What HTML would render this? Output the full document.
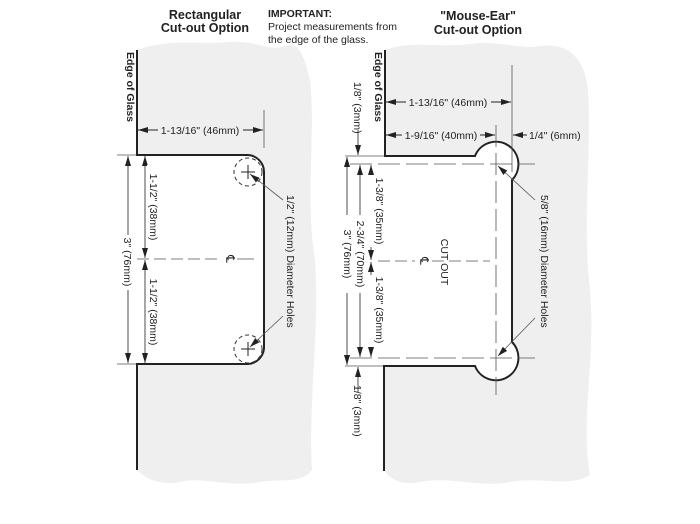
<!DOCTYPE html>
<html><head><meta charset="utf-8"><style>
html,body{margin:0;padding:0;background:#fff;}
svg{display:block;}
text{font-family:"Liberation Sans Narrow","Liberation Sans",sans-serif;fill:#222;}
.t{font-size:10.5px;}
.b{font-weight:bold;}
</style></head><body>
<svg width="700" height="524" viewBox="0 0 700 524" xmlns="http://www.w3.org/2000/svg">
<defs>
<marker id="a" viewBox="0 0 10 6" refX="10" refY="3" markerWidth="10" markerHeight="6" orient="auto-start-reverse" markerUnits="userSpaceOnUse"><path d="M0,0 L10,3 L0,6z" fill="#222"/></marker>
</defs>
<!-- glass blobs -->
<path d="M137,50 C170,38 200,45 230,42 C255,40 270,52 285,46 C300,40 305,60 310,80 C316,130 305,200 315,260 C320,330 308,400 312,470 C300,485 280,478 260,482 C230,488 200,476 180,482 C160,486 145,478 137,470 L137,364 L248,364 A17,17 0 0 0 264,348 L264,172 A17,17 0 0 0 248,155 L137,155 Z" fill="#efefef"/>
<path d="M385,50 C410,40 440,48 470,44 C500,40 520,50 540,46 C570,42 585,60 588,90 C592,150 582,220 590,290 C596,360 580,420 590,475 C570,488 540,476 510,482 C480,488 450,476 420,482 C400,486 390,478 384,471 L384,366 L475,366 A22.5,22.5 0 1 0 512,342 L512,180 A22.5,22.5 0 1 0 475,156 L385,156 Z" fill="#efefef"/>
<!-- titles -->
<text x="205" y="19" text-anchor="middle" class="b" font-size="12.5">Rectangular</text>
<text x="205" y="32" text-anchor="middle" class="b" font-size="12.5">Cut-out Option</text>
<text x="268" y="17" class="b" font-size="10.5">IMPORTANT:</text>
<text x="268" y="30" font-size="10.5">Project measurements from</text>
<text x="268" y="43" font-size="10.5">the edge of the glass.</text>
<text x="478" y="20" text-anchor="middle" class="b" font-size="12.5">"Mouse-Ear"</text>
<text x="478" y="34" text-anchor="middle" class="b" font-size="12.5">Cut-out Option</text>

<!-- LEFT outline -->
<path d="M137,50 L137,155 L248,155 A17,17 0 0 1 264,172 L264,348 A17,17 0 0 1 248,364 L137,364 L137,470" fill="none" stroke="#222" stroke-width="2"/>
<text transform="translate(127,52) rotate(90)" class="b" font-size="10.5">Edge of Glass</text>
<!-- dims -->
<line x1="264" y1="110" x2="264" y2="148" stroke="#555" stroke-width="0.8"/>
<line x1="138" y1="130" x2="158" y2="130" stroke="#222" marker-start="url(#a)"/>
<line x1="243" y1="130" x2="263" y2="130" stroke="#222" marker-end="url(#a)"/>
<text x="200" y="134" text-anchor="middle" class="t">1-13/16" (46mm)</text>
<line x1="117" y1="155" x2="136" y2="155" stroke="#555" stroke-width="0.8"/>
<line x1="117" y1="364" x2="136" y2="364" stroke="#555" stroke-width="0.8"/>
<line x1="128" y1="156" x2="128" y2="235" stroke="#222" stroke-width="0.8" marker-start="url(#a)"/>
<line x1="128" y1="290" x2="128" y2="363" stroke="#222" stroke-width="0.8" marker-end="url(#a)"/>
<text transform="translate(124,262) rotate(90)" text-anchor="middle" class="t">3" (76mm)</text>
<line x1="145" y1="156" x2="145" y2="258" stroke="#222" stroke-width="0.8" marker-start="url(#a)" marker-end="url(#a)"/>
<line x1="145" y1="260" x2="145" y2="363" stroke="#222" stroke-width="0.8" marker-start="url(#a)" marker-end="url(#a)"/>
<rect x="147" y="165" width="14" height="80" fill="#fff"/>
<rect x="147" y="273" width="14" height="80" fill="#fff"/>
<text transform="translate(150,207) rotate(90)" text-anchor="middle" class="t">1-1/2" (38mm)</text>
<text transform="translate(150,312) rotate(90)" text-anchor="middle" class="t">1-1/2" (38mm)</text>
<line x1="137" y1="259" x2="222" y2="259" stroke="#555" stroke-width="0.8" stroke-dasharray="12,5"/>
<line x1="237" y1="259" x2="254" y2="259" stroke="#555" stroke-width="0.8"/>
<text transform="translate(226,259) rotate(90)" text-anchor="middle" font-size="12">℄</text>
<circle cx="248" cy="172" r="14" fill="none" stroke="#333" stroke-width="1" stroke-dasharray="4,3"/>
<circle cx="248" cy="349" r="14" fill="none" stroke="#333" stroke-width="1" stroke-dasharray="4,3"/>
<path d="M241,172 h14 M248,165 v14 M241,349 h14 M248,342 v14" stroke="#222" stroke-width="1"/>
<line x1="283" y1="200" x2="250" y2="174" stroke="#555" stroke-width="0.8" marker-end="url(#a)"/>
<line x1="283" y1="316" x2="250" y2="347" stroke="#555" stroke-width="0.8" marker-end="url(#a)"/>
<text transform="translate(287,195) rotate(90)" class="t">1/2" (12mm) Diameter Holes</text>

<!-- RIGHT outline -->
<path d="M385,50 L385,156 L475,156 A22.5,22.5 0 1 1 512,180 L512,342 A22.5,22.5 0 1 1 475,366 L384,366 L384,471" fill="none" stroke="#222" stroke-width="2"/>
<text transform="translate(375,52) rotate(90)" class="b" font-size="10.5">Edge of Glass</text>
<line x1="512" y1="65" x2="512" y2="172" stroke="#555" stroke-width="0.8"/>
<line x1="386" y1="102" x2="406" y2="102" stroke="#222" marker-start="url(#a)"/>
<line x1="491" y1="102" x2="511" y2="102" stroke="#222" marker-end="url(#a)"/>
<text x="448" y="106" text-anchor="middle" class="t">1-13/16" (46mm)</text>
<line x1="386" y1="135" x2="402" y2="135" stroke="#222" marker-start="url(#a)"/>
<line x1="480" y1="135" x2="495" y2="135" stroke="#222" marker-end="url(#a)"/>
<text x="441" y="139" text-anchor="middle" class="t">1-9/16" (40mm)</text>
<line x1="527" y1="135" x2="513" y2="135" stroke="#222" marker-end="url(#a)"/>
<text x="529" y="139" class="t">1/4" (6mm)</text>
<line x1="496" y1="125" x2="496" y2="395" stroke="#555" stroke-width="0.8" stroke-dasharray="22,6"/>
<line x1="350" y1="164" x2="535" y2="164" stroke="#555" stroke-width="0.8" stroke-dasharray="22,6"/>
<line x1="350" y1="358" x2="535" y2="358" stroke="#555" stroke-width="0.8" stroke-dasharray="22,6"/>
<line x1="345" y1="156" x2="384" y2="156" stroke="#555" stroke-width="0.8"/>
<line x1="345" y1="366" x2="383" y2="366" stroke="#555" stroke-width="0.8"/>
<line x1="358" y1="130" x2="358" y2="155" stroke="#222" stroke-width="0.8" marker-end="url(#a)"/>
<text transform="translate(354,82) rotate(90)" class="t">1/8" (3mm)</text>
<line x1="358" y1="392" x2="358" y2="367" stroke="#222" stroke-width="0.8" marker-end="url(#a)"/>
<text transform="translate(354,385) rotate(90)" class="t">1/8" (3mm)</text>
<line x1="347" y1="157" x2="347" y2="365" stroke="#222" stroke-width="0.8" marker-start="url(#a)" marker-end="url(#a)"/>
<line x1="360" y1="165" x2="360" y2="357" stroke="#222" stroke-width="0.8" marker-start="url(#a)" marker-end="url(#a)"/>
<line x1="371" y1="165" x2="371" y2="260" stroke="#222" stroke-width="0.8" marker-start="url(#a)" marker-end="url(#a)"/>
<line x1="371" y1="262" x2="371" y2="357" stroke="#222" stroke-width="0.8" marker-start="url(#a)" marker-end="url(#a)"/>
<rect x="340" y="215" width="26" height="78" fill="#fff"/>
<rect x="366" y="175" width="13" height="72" fill="#fff"/>
<rect x="366" y="275" width="13" height="72" fill="#fff"/>
<text transform="translate(344,254) rotate(90)" text-anchor="middle" class="t">3" (76mm)</text>
<text transform="translate(357,254) rotate(90)" text-anchor="middle" class="t">2-3/4" (70mm)</text>
<text transform="translate(376,211) rotate(90)" text-anchor="middle" class="t">1-3/8" (35mm)</text>
<text transform="translate(376,310) rotate(90)" text-anchor="middle" class="t">1-3/8" (35mm)</text>
<line x1="378" y1="261" x2="415" y2="261" stroke="#555" stroke-width="0.8" stroke-dasharray="12,5"/>
<line x1="432" y1="261" x2="490" y2="261" stroke="#555" stroke-width="0.8" stroke-dasharray="12,5"/>
<text transform="translate(420,261) rotate(90)" text-anchor="middle" font-size="12">℄</text>
<text transform="translate(441,262) rotate(90)" text-anchor="middle" class="t">CUT OUT</text>
<line x1="535" y1="200" x2="498" y2="166" stroke="#555" stroke-width="0.8" marker-end="url(#a)"/>
<line x1="535" y1="318" x2="498" y2="356" stroke="#555" stroke-width="0.8" marker-end="url(#a)"/>
<text transform="translate(541,195) rotate(90)" class="t">5/8" (16mm) Diameter Holes</text>
</svg>
</body></html>
